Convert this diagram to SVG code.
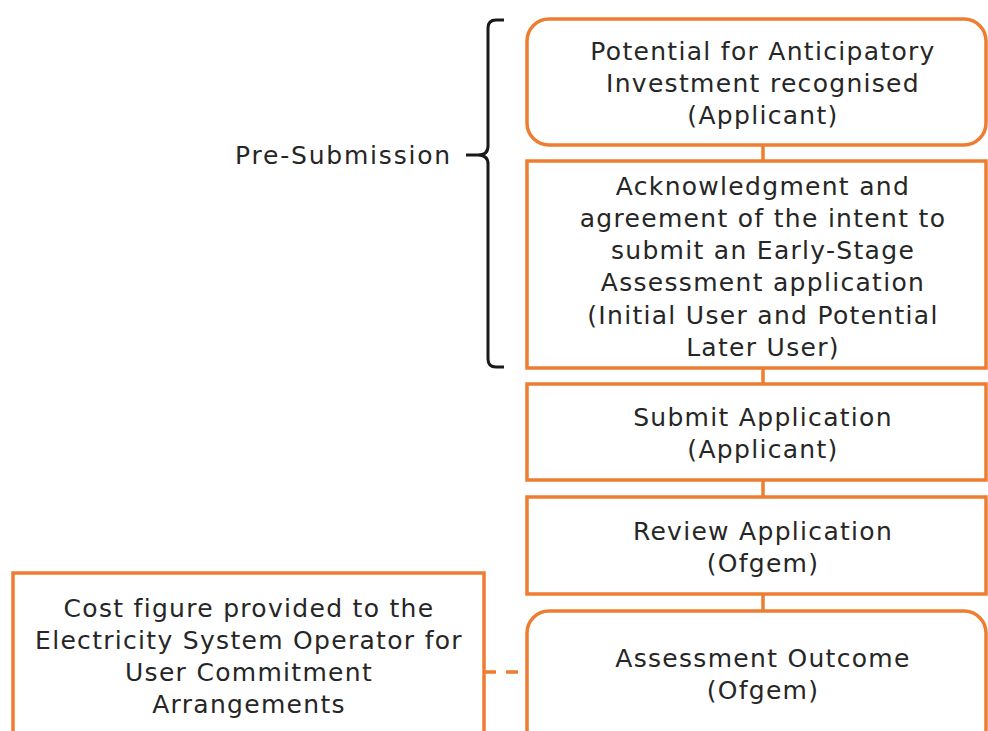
<svg xmlns="http://www.w3.org/2000/svg" width="988" height="731" viewBox="0 0 988 731">
<style>
.box{fill:#fff;stroke:#ED7D31;stroke-width:3.5}
.t{font-family:"DejaVu Sans",Verdana,sans-serif;font-size:25px;letter-spacing:1.3px;fill:#262626;text-anchor:middle}
.con{stroke:#ED7D31;stroke-width:3.5;fill:none}
</style>
<rect width="988" height="731" fill="#fff"/>
<g id="connectors">
<line class="con" x1="763" y1="145" x2="763" y2="161"/>
<line class="con" x1="763" y1="368" x2="763" y2="384"/>
<line class="con" x1="763" y1="480" x2="763" y2="497"/>
<line class="con" x1="763" y1="594" x2="763" y2="611"/>
<line class="con" x1="484" y1="672" x2="527" y2="672" stroke-dasharray="12,10"/>
</g>
<g id="bracket">
<path d="M504,20 H496 Q488,20 488,28 V146 Q488,155 478,155 H466 M478,155 Q488,155 488,164 V359 Q488,367 496,367 H504" fill="none" stroke="#1a1a1a" stroke-width="3"/>
<text class="t" x="452" y="164" style="text-anchor:end;letter-spacing:1.8px">Pre-Submission</text>
</g>
<g id="n1">
<rect class="box" x="527" y="19" width="459" height="126" rx="22"/>
<text class="t" x="763" y="60">Potential for Anticipatory</text>
<text class="t" x="763" y="92">Investment recognised</text>
<text class="t" x="763" y="124">(Applicant)</text>
</g>
<g id="n2">
<rect class="box" x="527" y="161" width="459" height="207"/>
<text class="t" x="763" y="195">Acknowledgment and</text>
<text class="t" x="763" y="227">agreement of the intent to</text>
<text class="t" x="763" y="259">submit an Early-Stage</text>
<text class="t" x="763" y="291">Assessment application</text>
<text class="t" x="763" y="324">(Initial User and Potential</text>
<text class="t" x="763" y="356">Later User)</text>
</g>
<g id="n3">
<rect class="box" x="527" y="384" width="459" height="96"/>
<text class="t" x="763" y="426">Submit Application</text>
<text class="t" x="763" y="458">(Applicant)</text>
</g>
<g id="n4">
<rect class="box" x="527" y="497" width="459" height="97"/>
<text class="t" x="763" y="540">Review Application</text>
<text class="t" x="763" y="572">(Ofgem)</text>
</g>
<g id="n5">
<rect class="box" x="527" y="611" width="459" height="140" rx="22"/>
<text class="t" x="763" y="667">Assessment Outcome</text>
<text class="t" x="763" y="699">(Ofgem)</text>
</g>
<g id="n6">
<rect class="box" x="13" y="573" width="471" height="180"/>
<text class="t" x="249" y="617">Cost figure provided to the</text>
<text class="t" x="249" y="649">Electricity System Operator for</text>
<text class="t" x="249" y="681">User Commitment</text>
<text class="t" x="249" y="713">Arrangements</text>
</g>
</svg>
